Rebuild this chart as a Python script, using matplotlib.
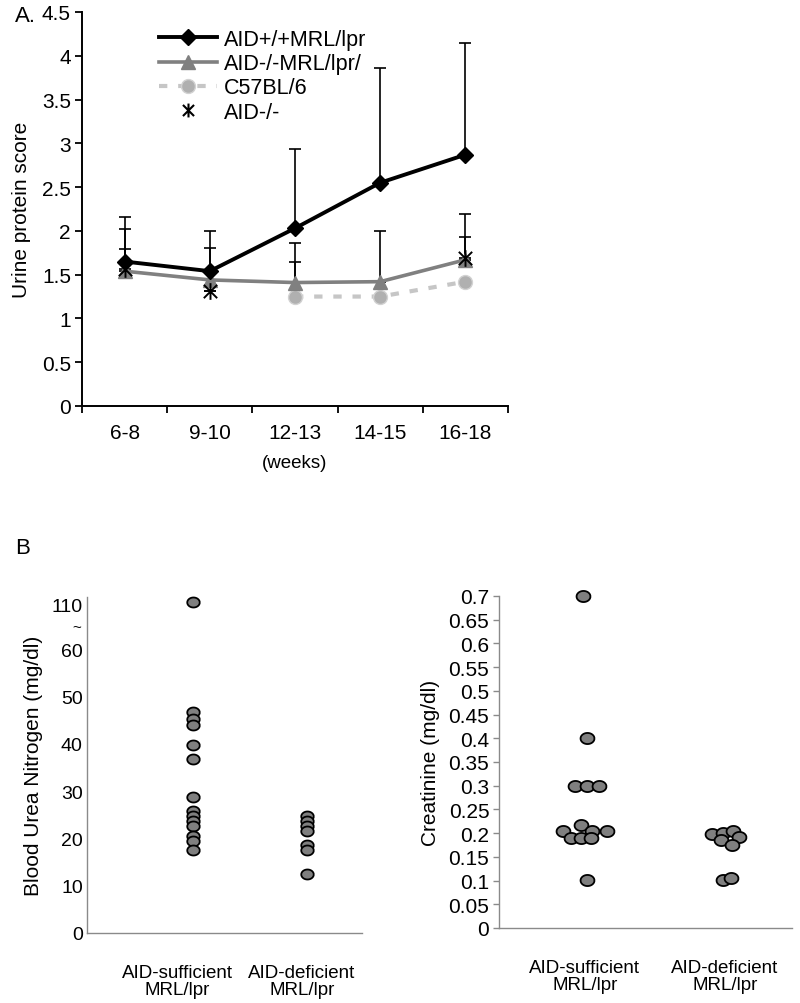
import numpy as np
import matplotlib
matplotlib.use("Agg")
import matplotlib.pyplot as plt
from matplotlib.lines import Line2D
from matplotlib.path import Path
from matplotlib import font_manager

plt.rcParams['font.family'] = ['Liberation Sans', 'DejaVu Sans']
names = sorted(set(f.name for f in font_manager.fontManager.ttflist))
narrow = 'Liberation Sans Narrow' if 'Liberation Sans Narrow' in names else 'Liberation Sans'

# ---- panel A data ----
weeks = ['6-8', '9-10', '12-13', '14-15', '16-18']
aid_pp = [1.65, 1.54, 2.03, 2.55, 2.87]
aid_pp_top = [2.16, 2.00, 2.93, 3.86, 4.15]
aid_ko_mrl = [1.54, 1.44, 1.41, 1.42, 1.67]
aid_ko_mrl_top = [1.79, 1.81, 1.86, 2.00, 2.19]
c57_idx = [2, 3, 4]
c57 = [1.25, 1.25, 1.42]
c57_top = [1.64, 1.25, 1.42]
aid_ko_idx = [0, 1, 4]
aid_ko = [1.57, 1.31, 1.69]
aid_ko_top = [2.02, 1.31, 1.93]

# ---- panel B data ----
groups = ['AID-sufficient\nMRL/lpr', 'AID-deficient\nMRL/lpr']
bun_suff = [112, 46.8, 45.2, 44.0, 39.7, 36.7, 28.7, 25.7, 24.7, 23.6, 22.6, 20.6, 19.5, 17.5]
bun_def = [24.7, 23.6, 22.6, 21.5, 18.6, 17.5, 12.4]
bun_shift = [0.128, 0.04]   # dots sit a little right of the group labels
bun_ticks = [0, 10, 20, 30, 40, 50, 60, 110]

crea_suff = [0.70, 0.40, 0.30, 0.30, 0.30, 0.204, 0.217, 0.204, 0.204, 0.189, 0.189, 0.189, 0.101]
crea_suff_jit = [-2, 2, -10, 2, 14, -22, -4, 7, 22, -14, -4, 6, 2]
crea_def = [0.198, 0.200, 0.204, 0.191, 0.186, 0.176, 0.101, 0.105]
crea_def_jit = [-13, -2, 8, 14, -4, 7, -2, 6]


def bun_pos(v):
    v = np.asarray(v, dtype=float)
    return np.where(v <= 60, v, 60 + (v - 60) * 0.19)


# X with a vertical stroke, like the Excel star marker
star = Path([(-0.8, -0.8), (0.8, 0.8), (-0.8, 0.8), (0.8, -0.8), (0, -1), (0, 1)],
            [Path.MOVETO, Path.LINETO, Path.MOVETO, Path.LINETO, Path.MOVETO, Path.LINETO])

fig = plt.figure(figsize=(8, 10.04), dpi=100)

# ================= panel A =================
ax = fig.add_axes([82/800, 1-407/1004, (508-82)/800, (407-13)/1004])
x = np.arange(len(weeks))
xa = np.array(x)

def upbar(xs, ys, tops, z):
    ys = np.array(ys); tops = np.array(tops)
    ax.errorbar(xs, ys, yerr=[np.zeros_like(ys), tops - ys], fmt='none',
                ecolor='black', elinewidth=1.2, capsize=4.5, capthick=1.2, zorder=z)

upbar(xa[c57_idx], c57, c57_top, 1)
upbar(xa, aid_ko_mrl, aid_ko_mrl_top, 1)
upbar(xa[aid_ko_idx], aid_ko, aid_ko_top, 1)
upbar(xa, aid_pp, aid_pp_top, 1)

ax.plot(xa[c57_idx], c57, color='#c6c6c6', lw=3, ls=(0, (2, 2.6)), marker='o', ms=10,
        mfc='#b0b0b0', mec='#d2d2d2', mew=1, zorder=2)
ax.plot(xa, aid_ko_mrl, color='#808080', lw=2.6, marker='^', ms=10,
        mfc='#808080', mec='#808080', zorder=3)
ax.plot(xa, aid_pp, color='black', lw=2.8, marker='D', ms=8.5,
        mfc='black', mec='black', zorder=4)
ax.plot(xa[aid_ko_idx], aid_ko, ls='none', marker=star, ms=12, mew=1.4,
        mfc='none', mec='black', zorder=5)

ax.set_xlim(-0.5, 4.5)
ax.set_ylim(0, 4.5)
ax.set_yticks(np.arange(0, 4.51, 0.5))
ax.set_yticklabels(['0', '0.5', '1', '1.5', '2', '2.5', '3', '3.5', '4', '4.5'],
                   family=narrow)
ax.set_xticks(x)
ax.set_xticklabels(weeks, family=narrow)
ax.set_xticks(np.arange(-0.5, 4.6, 1), minor=True)
ax.tick_params(axis='x', which='major', length=0, pad=12, labelsize=15)
ax.tick_params(axis='x', which='minor', length=5, width=1.3, direction='out')
ax.tick_params(axis='y', length=5, width=1.3, pad=3, labelsize=15)
for s in ['top', 'right']:
    ax.spines[s].set_visible(False)
for s in ['left', 'bottom']:
    ax.spines[s].set_linewidth(1.4)
ax.set_ylabel('Urine protein score', fontsize=15, labelpad=8)
ax.set_xlabel('(weeks)', fontsize=13.5, labelpad=9)

handles = [
    Line2D([], [], color='black', lw=2.8, marker='D', ms=8.5),
    Line2D([], [], color='#808080', lw=2.6, marker='^', ms=10),
    Line2D([], [], color='#c6c6c6', lw=3, ls=(0, (2, 2.6)), marker='o', ms=10,
           mfc='#b0b0b0', mec='#d2d2d2'),
    Line2D([], [], ls='none', marker=star, ms=10, mew=1.5, mfc='none', mec='black'),
]
labels = ['AID+/+MRL/lpr', 'AID-/-MRL/lpr/', 'C57BL/6', 'AID-/-']
fig.legend(handles, labels, loc='upper left', bbox_to_anchor=(159/800, 1-30/1004),
           frameon=False, fontsize=15.5, handlelength=2.7, handletextpad=0.3,
           labelspacing=0.15, borderpad=0, borderaxespad=0)

fig.text(15/800, 1-16/1004, 'A.', fontsize=16, va='center', ha='left')
fig.text(15/800, 1-549/1004, 'B', fontsize=16, va='center', ha='left')

# ================= panel B left: BUN =================
bx = fig.add_axes([87/800, 1-934/1004, (362-87)/800, (934-598)/1004])
ell = [(1.25*np.cos(t), np.sin(t)) for t in np.linspace(0, 2*np.pi, 40)]
bx.plot(np.zeros(len(bun_suff)) + bun_shift[0], bun_pos(bun_suff), ls='none', marker=ell,
        ms=9, mfc='#7f7f7f', mec='black', mew=1.3, clip_on=False)
bx.plot(np.ones(len(bun_def)) + bun_shift[1], bun_pos(bun_def), ls='none', marker=ell,
        ms=9, mfc='#7f7f7f', mec='black', mew=1.3, clip_on=False)
bx.set_xlim(-0.72, 1.48)
bx.set_ylim(0, 71)
bx.set_yticks(bun_pos(bun_ticks))
bx.set_yticklabels([str(t) for t in bun_ticks])
bx.set_xticks([0, 1])
bx.set_xticklabels(groups, linespacing=1.0)
bx.tick_params(axis='y', length=0, pad=3, labelsize=14)
bx.tick_params(axis='x', length=0, pad=22, labelsize=13.5)
for s in ['top', 'right']:
    bx.spines[s].set_visible(False)
for s in ['left', 'bottom']:
    bx.spines[s].set_color('#8a8a8a')
    bx.spines[s].set_linewidth(1.0)
bx.text(-0.02, bun_pos(85), '~', transform=bx.get_yaxis_transform(),
        ha='right', va='center', fontsize=11)
bx.set_ylabel('Blood Urea Nitrogen (mg/dl)', fontsize=15, labelpad=6)

# ================= panel B right: creatinine =================
cx = fig.add_axes([499/800, 1-929/1004, (792-499)/800, (929-597)/1004])
cx.plot(np.array(crea_suff_jit)/140.0, crea_suff, ls='none', marker=ell, ms=10,
        mfc='#7f7f7f', mec='black', mew=1.3, clip_on=False)
cx.plot(1 + np.array(crea_def_jit)/140.0, crea_def, ls='none', marker=ell, ms=10,
        mfc='#7f7f7f', mec='black', mew=1.3, clip_on=False)
cx.set_xlim(-0.614, 1.479)
cx.set_ylim(0, 0.7)
yt = np.round(np.arange(0, 0.701, 0.05), 2)
cx.set_yticks(yt)
cx.set_yticklabels(['0' if v == 0 else ('%g' % v) for v in yt], family=narrow)
cx.set_xticks([0, 1])
cx.set_xticklabels(groups, linespacing=1.0)
cx.tick_params(axis='y', length=4, width=1, color='#8a8a8a', pad=3, labelsize=15)
cx.tick_params(axis='x', length=0, pad=22, labelsize=13.5)
for s in ['top', 'right']:
    cx.spines[s].set_visible(False)
for s in ['left', 'bottom']:
    cx.spines[s].set_color('#8a8a8a')
    cx.spines[s].set_linewidth(1.0)
cx.set_ylabel('Creatinine (mg/dl)', fontsize=15, labelpad=6)

fig.savefig('out.png', dpi=100)
